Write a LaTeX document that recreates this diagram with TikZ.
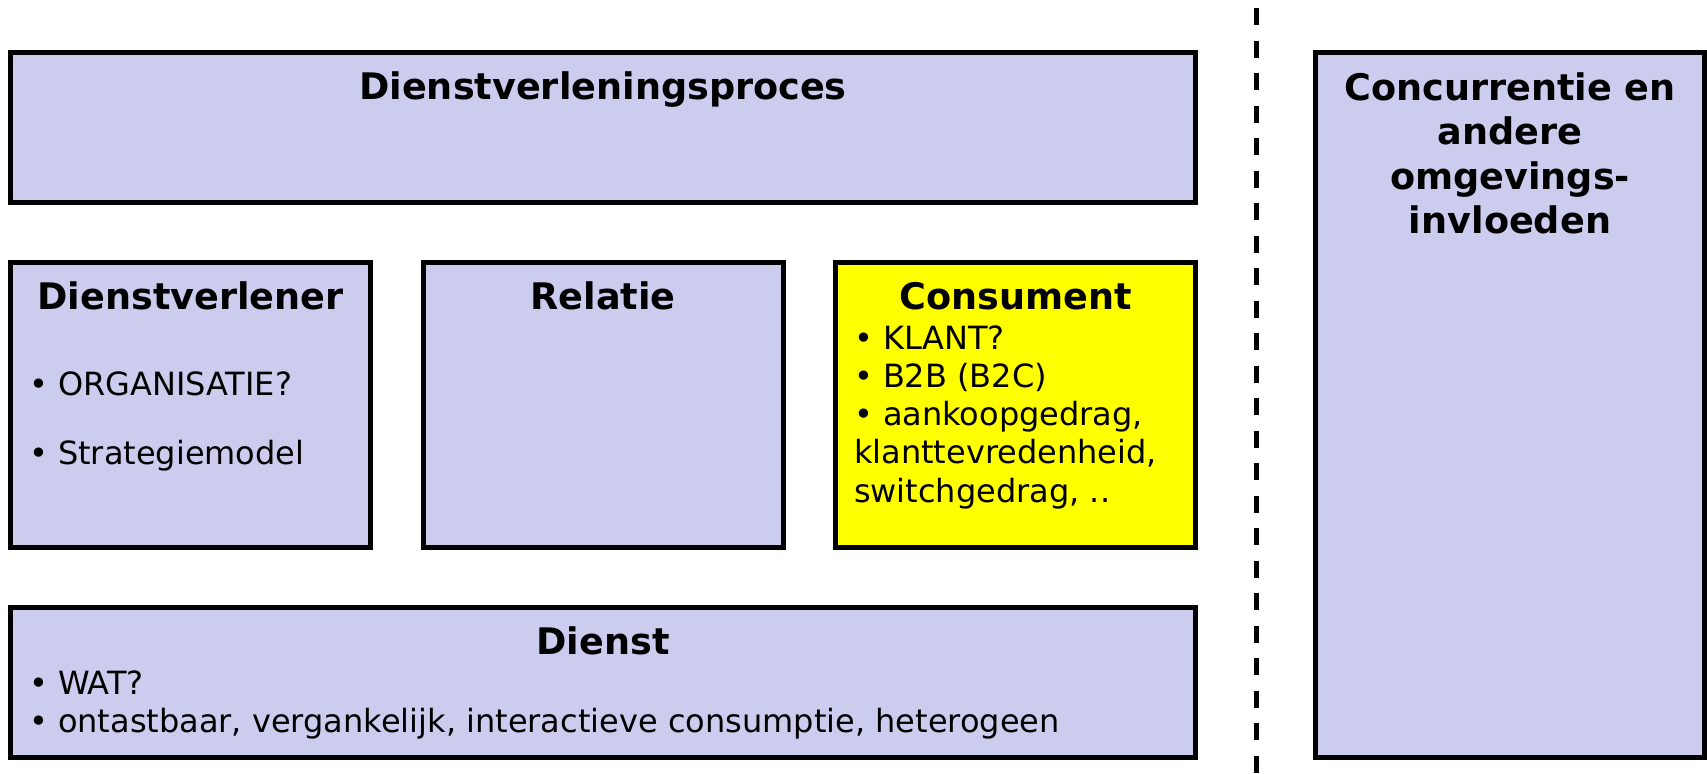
\documentclass[tikz,border=0pt]{standalone}
\usepackage{fontspec}
\setmainfont{DejaVu Sans}
\usetikzlibrary{positioning}
\definecolor{lila}{RGB}{204,204,238}
\definecolor{geel}{RGB}{255,255,0}

\begin{document}
\begin{tikzpicture}[blok/.style = { draw, line width = 2.5pt, fill = lila, inner sep = 0pt },
    kop/.style = { font = \bfseries\fontsize{18.3}{22.3}\selectfont, align = center, inner sep = 0pt, outer sep = 0pt },
    punt/.style = { font = \fontsize{16}{19.1}\selectfont, align = left, inner sep = 0pt, outer sep = 0pt },
    grens/.style = { line width = 2.5pt, dash pattern = on 8.5pt off 7.75pt }]
    \useasboundingbox (0,0) rectangle (853.5pt,-386.5pt);
    \node [blok, minimum width = 592.5pt, minimum height = 74.75pt] (proces) at (301.5pt,-63.625pt) {};
    \node [blok, minimum width = 180pt, minimum height = 142.5pt, below right = 27.75pt and 0pt of proces.south west] (verlener) {};
    \node [blok, minimum width = 180pt, minimum height = 142.5pt, right = 23.75pt of verlener] (relatie) {};
    \node [blok, minimum width = 180pt, minimum height = 142.5pt, right = 23.75pt of relatie, fill = geel] (consument) {};
    \node [blok, minimum width = 592.5pt, minimum height = 75pt, below right = 27.5pt and 0pt of verlener.south west] (dienst) {};
    \node [blok, minimum width = 194.5pt, minimum height = 352.5pt, below right = 0pt and 57.5pt of proces.north east] (omgeving) {};

    \node [kop, below = 24.75pt of proces.north, anchor = base] (procesKop) {Dienstverleningsproces};
    \node [kop, below = 24.75pt of verlener.north, anchor = base] (verlenerKop) {Dienstverlener};
    \node [kop, below = 24.75pt of relatie.north, anchor = base] (relatieKop) {Relatie};
    \node [kop, below = 24.75pt of consument.north, anchor = base] (consumentKop) {Consument};
    \node [kop, below = 24.75pt of dienst.north, anchor = base] (dienstKop) {Dienst};
    \node [kop, below = 11.15pt of omgeving.north] (omgevingKop) {Concurrentie en\\ andere\\ omgevings-\\ invloeden};

    \node [punt, below right = 67.75pt and 10.5pt of verlener.north west, anchor = base west] (verlenerA) {• ORGANISATIE?};
    \node [punt, below right = 102pt and 10.5pt of verlener.north west, anchor = base west] (verlenerB) {• Strategiemodel};
    \node [punt, below right = 32.8pt and 10.5pt of consument.north west] (consumentTekst) {• KLANT?\\ • B2B (B2C)\\ • aankoopgedrag,\\ klanttevredenheid,\\ switchgedrag, ..};
    \node [punt, below right = 33pt and 10.5pt of dienst.north west] (dienstTekst) {• WAT?\\ • ontastbaar, vergankelijk, interactieve consumptie, heterogeen};

    \coordinate (grensBoven) at (628pt,-4pt);
    \coordinate (grensOnder) at (628pt,-386.5pt);
    \draw [grens] (grensBoven) -- (grensOnder);
\end{tikzpicture}
\end{document}
